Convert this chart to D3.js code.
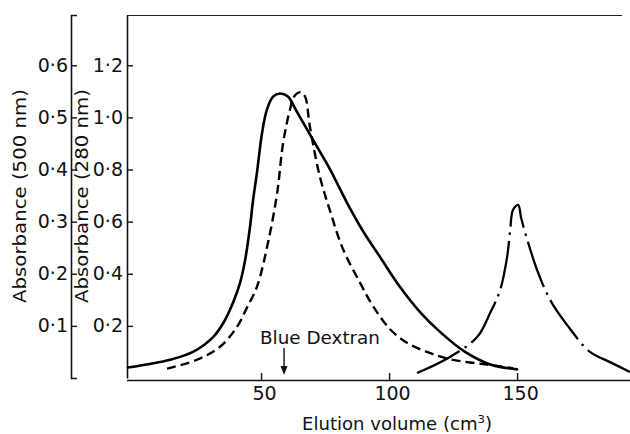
<!DOCTYPE html>
<html><head><meta charset="utf-8">
<script src="https://cdn.jsdelivr.net/npm/d3@7"></script>
<style>
body{margin:0;background:#fff}
svg{display:block}
</style>
</head><body>
<svg id="c" width="630" height="434"></svg>
<script>
// ---- data ----
const xTicks = [50, 100, 150];
const y280Ticks = [0.2, 0.4, 0.6, 0.8, 1.0, 1.2];
const y500Ticks = [0.1, 0.2, 0.3, 0.4, 0.5, 0.6];

// solid curve (elution volume, absorbance on 280 nm scale)
const solidV = [-2.0, 14.5, 23.4, 31.3, 35.2, 39.1, 41.8, 43.8, 45.7, 46.9, 48.4, 50.4, 52.3, 54.7, 57.4, 60.5, 64.1, 70.3, 77.0, 83.6, 89.8, 96.5, 104.3, 112.1, 119.9, 129.7, 139.5, 150.0];
const solidA = [0.040, 0.070, 0.100, 0.157, 0.210, 0.290, 0.365, 0.453, 0.580, 0.683, 0.787, 0.940, 1.030, 1.080, 1.092, 1.080, 1.020, 0.914, 0.800, 0.672, 0.564, 0.464, 0.349, 0.253, 0.177, 0.100, 0.052, 0.033];

// dashed curve
const dashV = [13.3, 25.0, 34.0, 40.6, 44.5, 48.4, 52.7, 56.3, 58.6, 61.3, 62.9, 65.5, 67.2, 69.1, 73.0, 77.0, 82.0, 88.7, 93.8, 100.4, 107.0, 114.8, 123.8, 139.5, 148.4];
const dashA = [0.036, 0.070, 0.120, 0.196, 0.270, 0.350, 0.518, 0.710, 0.900, 1.030, 1.080, 1.097, 1.080, 0.964, 0.772, 0.640, 0.495, 0.365, 0.275, 0.187, 0.135, 0.100, 0.072, 0.050, 0.038];

// dash-dot curve
const dotV = [110.9, 123.8, 134.4, 139.5, 143.4, 146.1, 147.3, 148.4, 150.4, 151.6, 153.1, 157.8, 162.9, 169.5, 178.5, 186.3, 194.1];
const dotA = [0.019, 0.081, 0.157, 0.250, 0.338, 0.464, 0.568, 0.645, 0.664, 0.614, 0.560, 0.415, 0.300, 0.204, 0.100, 0.061, 0.023];

const markerV = 59; // Blue Dextran

// ---- drawing ----
const svg = d3.select("#c");
const FONT = "'DejaVu Sans', 'Liberation Sans', sans-serif";
const x = d3.scaleLinear().domain([-2.34, 194.1]).range([127, 630]);
const y = d3.scaleLinear().domain([0, 1.393]).range([378, 15]);
const y5 = d3.scaleLinear().domain([0, 0.6965]).range([378, 15]);
const fmt = d => d3.format(".1f")(d).replace(".", "·");

// top border
svg.append("line").attr("x1", 127).attr("x2", 622).attr("y1", 15.5).attr("y2", 15.5)
  .attr("stroke", "#222").attr("stroke-width", 1.2);

// outer (500 nm) axis
const gOuter = svg.append("g").attr("transform", "translate(71,0)")
  .call(d3.axisLeft(y5).tickValues(y500Ticks).tickFormat(fmt).tickSize(-6).tickSizeOuter(-6).tickPadding(3));
// inner (280 nm) axis
const gInner = svg.append("g").attr("transform", "translate(127,0)")
  .call(d3.axisLeft(y).tickValues(y280Ticks).tickFormat(fmt).tickSize(-6).tickSizeOuter(0).tickPadding(4));
// x axis
const gX = svg.append("g").attr("transform", "translate(0,380)")
  .call(d3.axisBottom(x).tickValues(xTicks).tickFormat(d3.format("d")).tickSize(-7).tickSizeOuter(0).tickPadding(7));

[gOuter, gInner, gX].forEach(g => {
  g.attr("font-family", FONT).attr("font-size", 19);
  g.selectAll("path.domain").attr("stroke", "#111").attr("stroke-width", 1.6);
  g.selectAll(".tick line").attr("stroke", "#111").attr("stroke-width", 1.4);
  g.selectAll(".tick text").attr("fill", "#111");
});
gX.selectAll(".tick text").attr("dx", 3);
gX.select("path.domain").attr("d", `M127,0.5H630`);

// curves
const line = d3.line().x(d => x(d[0])).y(d => y(d[1])).curve(d3.curveCatmullRom.alpha(0.5));
svg.append("path").datum(d3.zip(solidV, solidA)).attr("d", line)
  .attr("fill", "none").attr("stroke", "#000").attr("stroke-width", 2.6).attr("stroke-linecap", "round");
svg.append("path").datum(d3.zip(dashV, dashA)).attr("d", line)
  .attr("fill", "none").attr("stroke", "#000").attr("stroke-width", 2.4).attr("stroke-dasharray", "9,5");
svg.append("path").datum(d3.zip(dotV, dotA)).attr("d", line)
  .attr("fill", "none").attr("stroke", "#000").attr("stroke-width", 2.3).attr("stroke-dasharray", "48,6,2.5,6");

// Blue Dextran annotation
svg.append("text").attr("x", 260).attr("y", 344)
  .attr("font-family", FONT).attr("font-size", 17).attr("fill", "#111")
  .attr("textLength", 120).attr("lengthAdjust", "spacingAndGlyphs").text("Blue Dextran");
svg.append("line").attr("x1", x(markerV)).attr("x2", x(markerV)).attr("y1", 348).attr("y2", 372)
  .attr("stroke", "#111").attr("stroke-width", 1.4);
svg.append("path").attr("d", `M${x(markerV)-3.5},366L${x(markerV)},375L${x(markerV)+3.5},366Z`).attr("fill", "#111");

// axis titles
svg.append("text").attr("x", 302).attr("y", 430)
  .attr("font-family", FONT).attr("font-size", 17).attr("fill", "#111")
  .attr("textLength", 190).attr("lengthAdjust", "spacingAndGlyphs")
  .html("Elution volume (cm<tspan dy='-7' font-size='11'>3</tspan><tspan dy='7'>)</tspan>");
svg.append("text").attr("transform", "translate(26,196) rotate(-90)").attr("text-anchor", "middle")
  .attr("font-family", FONT).attr("font-size", 18).attr("fill", "#111")
  .attr("textLength", 214).attr("lengthAdjust", "spacingAndGlyphs").text("Absorbance (500 nm)");
svg.append("text").attr("transform", "translate(88,196) rotate(-90)").attr("text-anchor", "middle")
  .attr("font-family", FONT).attr("font-size", 18).attr("fill", "#111")
  .attr("textLength", 214).attr("lengthAdjust", "spacingAndGlyphs").text("Absorbance (280 nm)");
</script>
</body></html>
